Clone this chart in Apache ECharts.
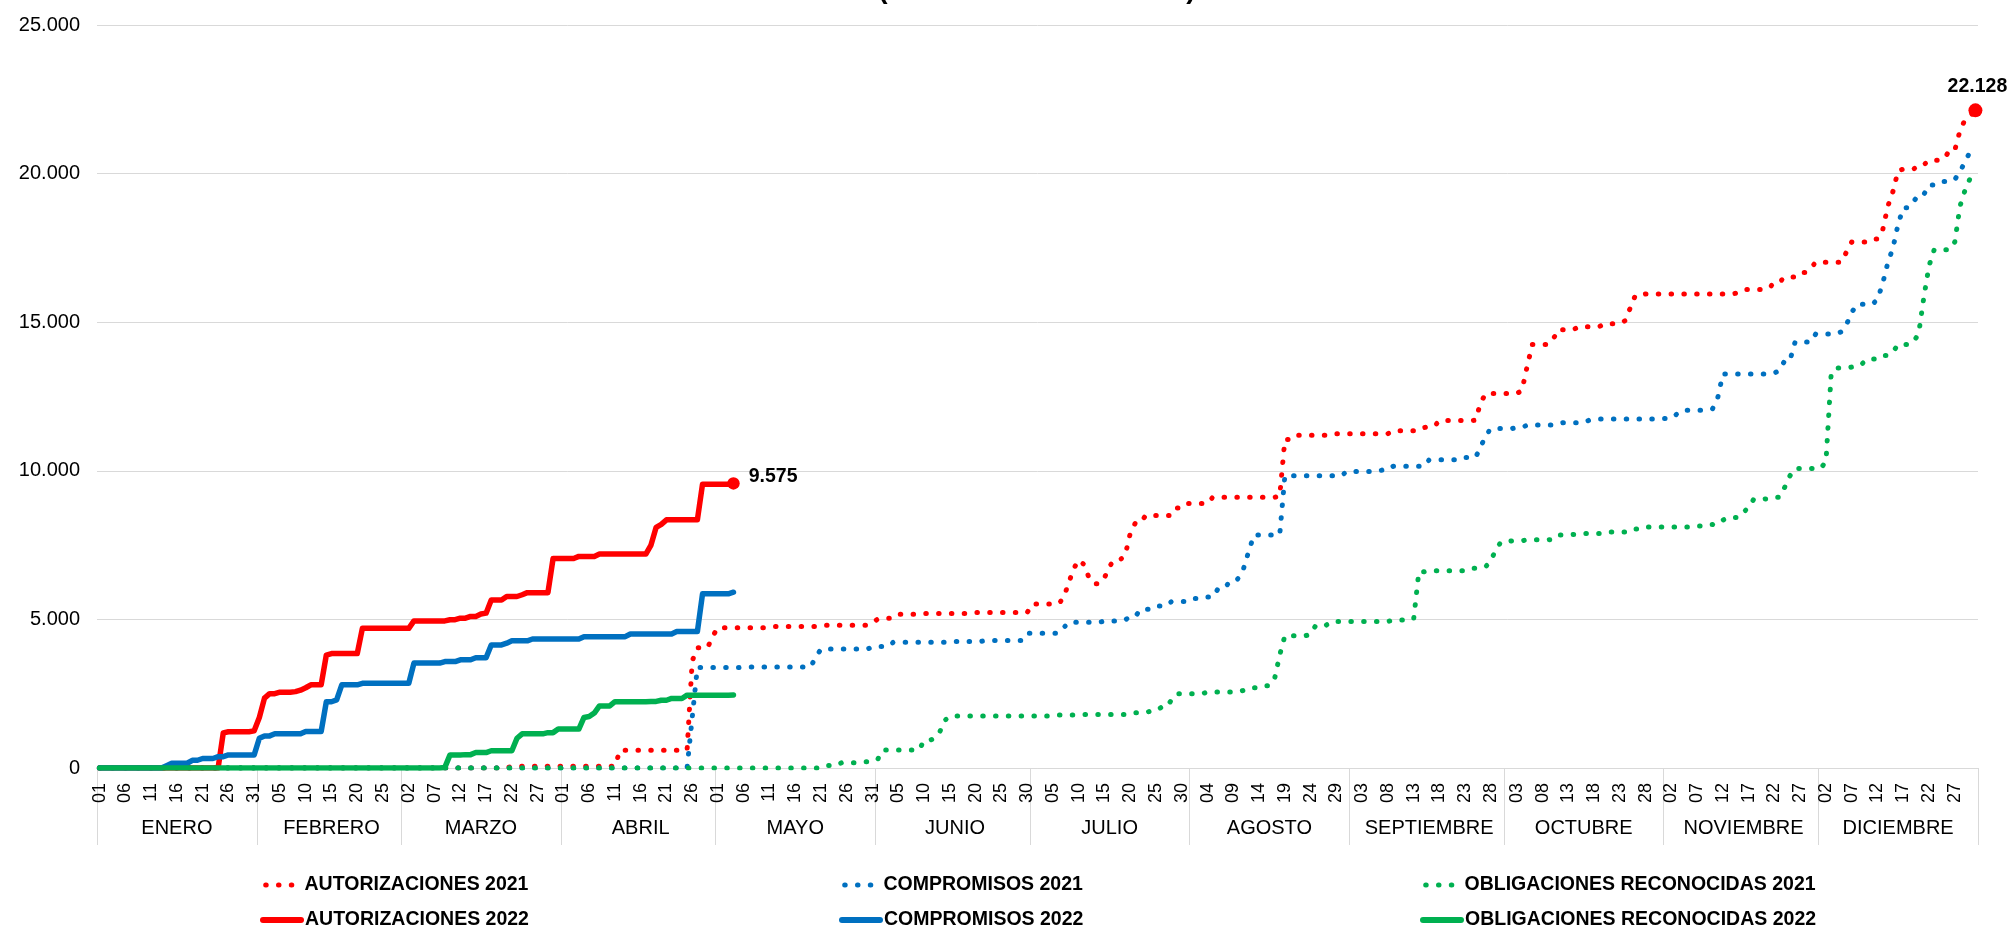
<!DOCTYPE html>
<html>
<head>
<meta charset="utf-8">
<script src="https://cdn.jsdelivr.net/npm/echarts@6/dist/echarts.min.js"></script>
<style>
  html, body { margin: 0; padding: 0; background: #ffffff; }
  #chart { width: 2014px; height: 927px; }
</style>
</head>
<body>
<div id="chart"></div>
<script>
// ---------- DATA ----------
const monthNames = ['ENERO','FEBRERO','MARZO','ABRIL','MAYO','JUNIO','JULIO','AGOSTO','SEPTIEMBRE','OCTUBRE','NOVIEMBRE','DICIEMBRE'];
const monthDays = [31,28,31,30,31,30,31,31,30,31,30,31];
const yTicks = [0, 5000, 10000, 15000, 20000, 25000];
const seriesNames = ['AUTORIZACIONES 2021','COMPROMISOS 2021','OBLIGACIONES RECONOCIDAS 2021',
                     'AUTORIZACIONES 2022','COMPROMISOS 2022','OBLIGACIONES RECONOCIDAS 2022'];

// cumulative values (millions), as [dayOfYearIndex, value]; value holds until next entry
const aut2021Steps = [[0,0],[80,60],[101,600],[115,3600],[116,4050],[119,4450],[120,4720],[130,4760],[140,4800],
  [150,4900],[151,5010],[153,5040],[155,5170],[160,5200],[170,5230],[181,5520],[187,5700],[188,6200],[189,6700],
  [190,7000],[191,6850],[192,6400],[193,6200],[195,6400],[196,6800],[197,7000],[199,7150],[200,7900],[201,8250],
  [203,8500],[209,8750],[211,8900],[216,9110],[229,9150],[230,11050],[232,11200],[240,11250],[251,11350],
  [256,11450],[258,11500],[260,11690],[267,11700],[268,12300],[269,12600],[276,12700],[277,13500],[278,14250],
  [282,14400],[283,14750],[287,14850],[292,14950],[296,15050],[297,15470],[298,15900],[300,15950],[318,16000],
  [319,16100],[324,16150],[325,16350],[327,16520],[330,16670],[332,16800],[333,17020],[339,17370],[340,17700],
  [344,17800],[346,18100],[347,18900],[348,19400],[349,20100],[350,20150],[353,20300],[355,20450],[358,20520],
  [359,20790],[361,21440],[362,21820],[363,21950],[364,22128]];
const comp2021Steps = [[0,0],[115,1700],[116,3380],[125,3400],[139,3750],[140,4000],[150,4085],[154,4230],
  [165,4260],[172,4290],[180,4530],[187,4700],[188,4900],[195,4950],[198,4980],[200,5100],[202,5340],[205,5450],
  [208,5600],[212,5700],[215,5750],[217,6020],[219,6200],[221,6390],[222,6720],[223,7300],[224,7840],[229,7850],
  [230,9830],[242,9980],[249,10030],[251,10150],[258,10370],[265,10450],[268,10800],[269,11200],[270,11420],
  [275,11450],[277,11540],[283,11570],[284,11620],[289,11700],[291,11740],[303,11760],[306,11900],[308,12040],
  [313,12090],[314,12460],[315,13260],[324,13290],[326,13380],[327,13710],[329,14330],[333,14600],[338,14680],
  [339,14930],[340,15330],[341,15600],[345,15770],[346,16300],[347,17000],[348,17500],[349,18300],[350,18850],
  [352,19060],[353,19300],[355,19620],[357,19730],[360,19800],[361,20070],[362,20400],[363,20750],[364,20950]];
const obl2021Steps = [[0,0],[141,80],[144,180],[148,213],[150,292],[152,606],[160,920],[162,1000],[163,1200],
  [164,1600],[165,1751],[185,1780],[190,1800],[200,1860],[204,1920],[206,2040],[208,2290],[209,2500],[215,2560],
  [222,2615],[224,2700],[226,2770],[228,3000],[229,3800],[230,4450],[235,4500],[236,4800],[239,4930],[251,4980],
  [255,5020],[256,6600],[258,6640],[266,6720],[268,6780],[270,6970],[271,7390],[272,7610],[274,7640],[277,7680],
  [282,7690],[283,7840],[286,7860],[288,7890],[293,7940],[297,8040],[300,8110],[310,8140],[312,8190],[314,8340],
  [316,8430],[319,8600],[320,8780],[321,9050],[324,9060],[325,9110],[327,9450],[328,9830],[329,10080],[335,10320],
  [336,13240],[337,13460],[340,13490],[341,13600],[343,13760],[346,13880],[348,14000],[349,14250],[352,14330],
  [353,14630],[354,15850],[355,16900],[356,17440],[360,17700],[361,18900],[362,19450],[363,19850],[364,20100]];
const aut2022Steps = [[0,0],[24,1180],[25,1220],[30,1250],[31,1700],[32,2350],[33,2500],[35,2550],[38,2570],
  [39,2620],[40,2700],[41,2800],[44,3800],[45,3850],[51,4700],[61,4950],[68,4990],[70,5040],[72,5100],[74,5180],
  [75,5210],[76,5650],[79,5770],[82,5830],[83,5900],[88,7050],[93,7120],[97,7200],[107,7500],[108,8100],
  [109,8200],[110,8350],[117,9550],[123,9575]];
const comp2022Steps = [[0,0],[13,80],[14,160],[18,260],[20,320],[23,380],[25,440],[31,1000],[32,1080],[34,1150],
  [40,1230],[44,2230],[46,2290],[47,2800],[51,2850],[61,3530],[67,3580],[70,3640],[73,3710],[76,4140],[79,4200],
  [80,4280],[84,4340],[94,4420],[103,4510],[112,4590],[117,5860],[123,5915]];
const obl2022Steps = [[0,0],[67,20],[68,440],[71,450],[73,520],[76,580],[81,1000],[82,1150],[87,1190],[89,1310],
  [94,1700],[95,1730],[96,1850],[97,2090],[100,2230],[107,2240],[109,2280],[111,2340],[114,2450],[123,2460]];
const lastDay2021 = 364;
const lastDay2022 = 123;

// ---------- HELPERS ----------
const pad = n => (n < 10 ? '0' : '') + n;
const categories = [];
const monthOfIndex = [];
const monthStart = new Set();
const monthMid = new Set();
(function () {
  let idx = 0;
  monthDays.forEach((days, m) => {
    monthStart.add(idx);
    monthMid.add(idx + Math.floor(days / 2));
    for (let d = 1; d <= days; d++) {
      categories.push(pad(d) + '/' + pad(m + 1));
      monthOfIndex.push(m);
      idx++;
    }
  });
})();
function expand(steps, lastDay) {
  const out = [];
  let k = 0;
  for (let i = 0; i <= lastDay; i++) {
    while (k + 1 < steps.length && steps[k + 1][0] <= i) k++;
    out.push(steps[k][1]);
  }
  return out;
}
const fmt = v => String(Math.round(v)).replace(/\B(?=(\d{3})+(?!\d))/g, '.');

const aut2021 = expand(aut2021Steps, lastDay2021);
const comp2021 = expand(comp2021Steps, lastDay2021);
const obl2021 = expand(obl2021Steps, lastDay2021);
const aut2022 = expand(aut2022Steps, lastDay2022);
const comp2022 = expand(comp2022Steps, lastDay2022);
const obl2022 = expand(obl2022Steps, lastDay2022);

// ---------- CHART ----------
const FONT = "'Liberation Sans', Arial, Helvetica, sans-serif";
const RED = '#FF0000', BLUE = '#0070C0', GREEN = '#00B050';
const dotted = [0.5, 12.3];

function dottedSeries(name, color, data) {
  return { name, type: 'line', data, symbol: 'none', silent: true,
    itemStyle: { color },
    lineStyle: { color, width: 5, type: dotted, cap: 'round', join: 'round' } };
}
function solidSeries(name, color, data) {
  return { name, type: 'line', data, symbol: 'none', silent: true,
    itemStyle: { color },
    lineStyle: { color, width: 5.5, type: 'solid', cap: 'round', join: 'round' } };
}
function endMark(data, size, pos, offset) {
  const i = data.length - 1;
  return {
    symbol: 'circle', symbolSize: size, silent: true,
    itemStyle: { color: RED },
    label: { show: true, position: pos, distance: 7, offset, color: '#000', fontWeight: 'bold',
             fontSize: 19.5, fontFamily: FONT, formatter: p => fmt(p.value) },
    data: [{ coord: [categories[i], data[i]], value: data[i] }]
  };
}

const s = [
  dottedSeries(seriesNames[0], RED, aut2021),
  dottedSeries(seriesNames[1], BLUE, comp2021),
  dottedSeries(seriesNames[2], GREEN, obl2021),
  solidSeries(seriesNames[3], RED, aut2022),
  solidSeries(seriesNames[4], BLUE, comp2022),
  solidSeries(seriesNames[5], GREEN, obl2022)
];
s[0].markPoint = endMark(aut2021, 14, 'top', [2, 0]);
s[3].markPoint = endMark(aut2022, 12.5, 'right', [2, -7]);

function legendAt(name, left, top, width, dashOffset) {
  return { data: [name], left, top, padding: 0, itemWidth: 38, itemHeight: 14, itemGap: 0,
    selectedMode: false,
    itemStyle: { opacity: 0 },
    lineStyle: { width, inherit: true, dashOffset },
    textStyle: { color: '#000', fontWeight: 'bold', fontSize: 19.5, fontFamily: FONT, padding: [0, 0, 0, -1] } };
}

const option = {
  animation: false,
  backgroundColor: '#ffffff',
  textStyle: { fontFamily: FONT },
  graphic: [{
    type: 'text', x: 1037, y: 4.3, silent: true,
    style: { text: '(MILLONES DE EUROS)', fill: '#000', font: 'bold 28px ' + FONT,
             align: 'center', verticalAlign: 'bottom' }
  }],
  grid: { left: 97, right: 36, top: 25, bottom: 159, containLabel: false },
  legend: [
    legendAt(seriesNames[0], 260, 875, 5, 9.6),
    legendAt(seriesNames[1], 839, 875, 5, 9.6),
    legendAt(seriesNames[2], 1420, 875, 5, 9.6),
    legendAt(seriesNames[3], 260, 910, 6, 0),
    legendAt(seriesNames[4], 839, 910, 6, 0),
    legendAt(seriesNames[5], 1420, 910, 6, 0)
  ],
  xAxis: [
    {
      type: 'category', data: categories, boundaryGap: true, position: 'bottom',
      axisLine: { show: true, lineStyle: { color: '#d9d9d9', width: 1 } },
      axisTick: { show: false },
      axisLabel: { interval: 4, rotate: 90, margin: 15, color: '#000', fontSize: 18, fontFamily: FONT,
                   formatter: v => v.slice(0, 2) },
      splitLine: { show: false }
    },
    {
      type: 'category', data: categories, boundaryGap: true, position: 'bottom', offset: 0,
      axisLine: { show: false },
      axisTick: { show: true, interval: i => monthStart.has(i), length: 77, inside: false,
                  lineStyle: { color: '#d9d9d9', width: 1 } },
      axisLabel: { interval: i => monthMid.has(i), margin: 50, color: '#000', fontSize: 20, fontFamily: FONT,
                   formatter: (v, i) => monthNames[monthOfIndex[i]] },
      splitLine: { show: false }
    }
  ],
  yAxis: {
    type: 'value', min: yTicks[0], max: yTicks[yTicks.length - 1], interval: yTicks[1] - yTicks[0],
    axisLine: { show: false }, axisTick: { show: false },
    axisLabel: { margin: 17, color: '#000', fontSize: 20, fontFamily: FONT, formatter: v => fmt(v) },
    splitLine: { lineStyle: { color: '#d9d9d9', width: 1 } }
  },
  series: s
};

const chart = echarts.init(document.getElementById('chart'), null, { renderer: 'canvas' });
chart.setOption(option);
</script>
</body>
</html>
